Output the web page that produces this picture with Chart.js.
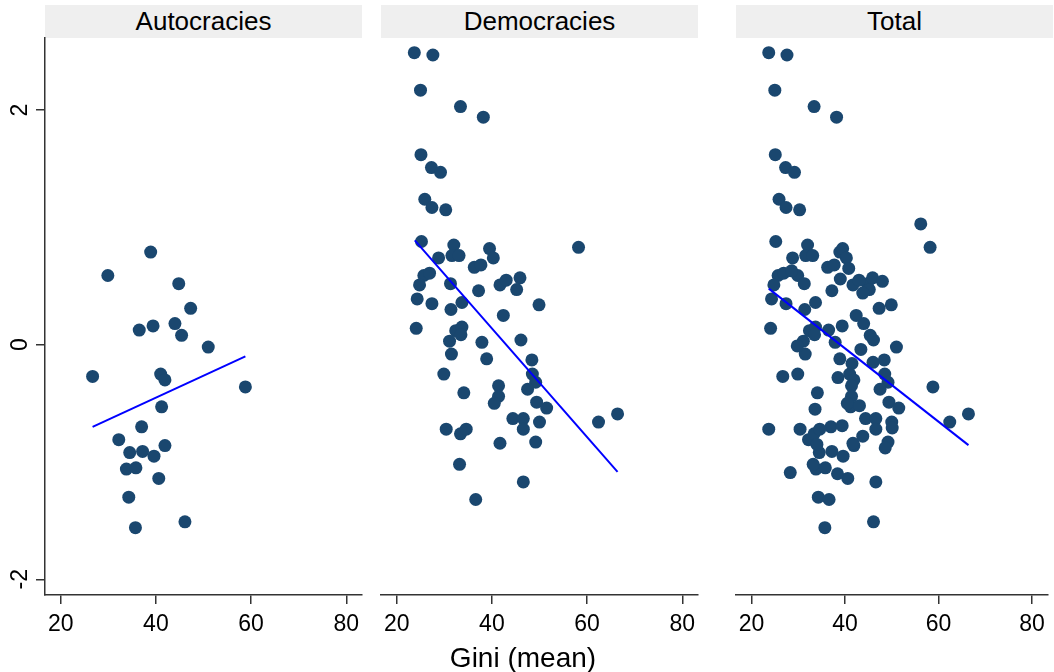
<!DOCTYPE html>
<html>
<head>
<meta charset="utf-8">
<script src="https://cdn.jsdelivr.net/npm/chart.js@4.4.1/dist/chart.umd.min.js"></script>
<style>
  html, body { margin: 0; padding: 0; background: #fff; }
  body { width: 1054px; height: 672px; position: relative; overflow: hidden;
         font-family: "Liberation Sans", Arial, sans-serif; }
  canvas { position: absolute; top: 0; }
  .strip { position: absolute; top: 5px; height: 33px; line-height: 33px; background: #efefef;
           color: #000; font-size: 26px; text-align: center; }
  #xtitle { position: absolute; left: 373px; width: 300px; top: 643px; line-height: 30px;
            text-align: center; font-size: 28px; color: #000; }
</style>
</head>
<body>
<div class="strip" style="left:45px;width:317px">Autocracies</div>
<div class="strip" style="left:381px;width:317px">Democracies</div>
<div class="strip" style="left:736px;width:317px">Total</div>
<canvas id="p1" width="370" height="672" style="left:0px"></canvas>
<canvas id="p2" width="334" height="672" style="left:372px"></canvas>
<canvas id="p3" width="327" height="672" style="left:727px"></canvas>
<div id="xtitle">Gini (mean)</div>

<script>
(function(){
  // axis ticks
  const xTicks = [20, 40, 60, 80];
  const yTicks = [-2, 0, 2];

  // Autocracies: Gini (mean) / outcome
  const autX = [38.9, 29.9, 44.8, 47.3, 36.5, 39.4, 44.0, 45.4, 51.0, 26.7, 41.0, 41.9, 58.8,
                41.2, 37.0, 32.2, 34.5, 37.2, 39.6, 41.9, 33.8, 35.8, 40.6, 34.3, 46.1, 35.7];
  const autY = [0.79, 0.59, 0.52, 0.31, 0.125, 0.16, 0.18, 0.08, -0.02, -0.27, -0.25, -0.30, -0.36,
                -0.53, -0.70, -0.81, -0.92, -0.91, -0.95, -0.86, -1.06, -1.05, -1.14, -1.30, -1.51, -1.56];

  // Democracies
  const demX = [23.7, 27.6, 25.0, 33.4, 38.2, 25.1, 27.3, 29.2, 25.9, 27.4, 30.3,
                25.2, 58.2, 32.0, 28.8, 31.6, 33.1, 39.5, 40.3, 36.3, 37.7,
                25.7, 26.9, 24.8, 31.3, 41.7, 43.0, 45.9, 45.2, 37.2, 24.3,
                27.4, 33.7, 31.4, 49.9, 42.4, 24.1, 32.4, 33.7, 33.5, 31.1,
                37.9, 46.1, 31.5, 38.9, 48.4, 29.9, 48.5, 49.2, 47.5, 41.4,
                41.4, 40.5, 34.1, 49.4, 51.5, 44.4, 46.6, 46.6, 50.0, 62.4,
                66.4, 30.4, 33.4, 34.6, 41.7, 49.2, 33.2, 46.6, 36.6];
  const demY = [2.49, 2.47, 2.17, 2.03, 1.94, 1.62, 1.51, 1.47, 1.24, 1.17, 1.15,
                0.88, 0.83, 0.85, 0.74, 0.76, 0.76, 0.82, 0.74, 0.66, 0.68,
                0.59, 0.61, 0.51, 0.52, 0.51, 0.55, 0.57, 0.47, 0.46, 0.39,
                0.35, 0.36, 0.30, 0.34, 0.25, 0.14, 0.12, 0.15, 0.085, 0.03,
                0.02, 0.04, -0.08, -0.12, -0.13, -0.25, -0.25, -0.32, -0.38, -0.35,
                -0.44, -0.50, -0.41, -0.49, -0.54, -0.63, -0.63, -0.72, -0.66, -0.66,
                -0.59, -0.72, -0.76, -0.72, -0.84, -0.83, -1.02, -1.17, -1.32];

  // countries only in Total (no regime classification)
  const othX = [56.2, 23.7, 29.8, 41.5, 43.4, 46.0, 38.5, 33.6, 43.1, 50.1, 39.4,
                34.0, 43.8, 38.4, 28.3, 40.8, 28.6, 39.0, 48.0, 43.8, 48.6];
  const othY = [1.03, -0.72, -0.01, -0.16, -0.04, -0.15, -0.28, -0.55, -0.52, -0.71, -0.69,
                -0.85, -0.78, -1.10, -1.09, 0.65, 0.63, 0.56, 0.54, 0.44, -0.88];

  // fitted lines (end points)
  const autFitX = [26.7, 58.8], autFitY = [-0.70, -0.10];
  const demFitX = [23.8, 66.4], demFitY = [0.89, -1.085];
  const totFitX = [23.7, 66.4], totFitY = [0.478, -0.856];

  const totX = [...autX, ...demX, ...othX];
  const totY = [...autY, ...demY, ...othY];

  const NAVY = '#1a476f';
  const AXIS = '#333';
  const FONT = '"Liberation Sans", Arial, sans-serif';
  const X_MIN = 16.7, X_MAX = 83.3;
  const Y_MIN = -2.134, Y_MAX = 2.615;

  const pts = (xs, ys) => xs.map((x, i) => ({ x, y: ys[i] }));

  // rotated y labels (Stata style)
  const yLabelPlugin = {
    id: 'yLabelPlugin',
    afterDraw(chart, args, opts) {
      if (!opts || !opts.show) return;
      const { ctx } = chart;
      const sc = chart.scales.y;
      ctx.save();
      ctx.font = '23px ' + FONT;
      ctx.fillStyle = '#000';
      ctx.textAlign = 'center';
      ctx.textBaseline = 'alphabetic';
      yTicks.forEach(v => {
        const y = sc.getPixelForValue(v);
        ctx.save();
        ctx.translate(27, y);
        ctx.rotate(-Math.PI / 2);
        ctx.fillText(String(v), 0, 0);
        ctx.restore();
      });
      ctx.restore();
    }
  };

  function build(id, cfg) {
    const ctx = document.getElementById(id).getContext('2d');
    return new Chart(ctx, {
      type: 'scatter',
      data: {
        datasets: [
          {
            type: 'line',
            data: pts(cfg.fx, cfg.fy),
            borderColor: '#0000ff',
            borderWidth: 2,
            pointRadius: 0,
            fill: false,
            order: 0
          },
          {
            type: 'scatter',
            data: pts(cfg.xs, cfg.ys),
            pointRadius: 6.5,
            pointHoverRadius: 6.5,
            pointBackgroundColor: NAVY,
            pointBorderWidth: 0,
            order: 1
          }
        ]
      },
      options: {
        responsive: false,
        devicePixelRatio: 1,
        animation: false,
        events: [],
        layout: { padding: { top: 38, right: cfg.padR, bottom: 0, left: cfg.padL } },
        plugins: {
          legend: { display: false },
          tooltip: { enabled: false },
          yLabelPlugin: { show: cfg.showY }
        },
        scales: {
          x: {
            type: 'linear',
            min: X_MIN, max: X_MAX,
            afterBuildTicks: s => { s.ticks = xTicks.map(v => ({ value: v })); },
            afterFit: s => { s.height = 77; },
            grid: { drawOnChartArea: false, drawTicks: true, tickLength: 9, color: AXIS, lineWidth: 1.5 },
            border: { display: true, color: AXIS, width: 1.5 },
            ticks: { color: '#000', font: { family: FONT, size: 23 }, padding: 7, maxRotation: 0 }
          },
          y: {
            type: 'linear',
            display: cfg.showY,
            min: Y_MIN, max: Y_MAX,
            afterBuildTicks: s => { s.ticks = yTicks.map(v => ({ value: v })); },
            afterFit: s => { s.width = cfg.showY ? 45 : 0; },
            grid: { drawOnChartArea: false, drawTicks: true, tickLength: 9, color: AXIS, lineWidth: 1.5 },
            border: { display: true, color: AXIS, width: 1.5 },
            ticks: { color: 'rgba(0,0,0,0)', font: { family: FONT, size: 23 } }
          }
        }
      },
      plugins: [yLabelPlugin]
    });
  }

  build('p1', { xs: autX, ys: autY, fx: autFitX, fy: autFitY, padL: 0, padR: 8, showY: true });
  build('p2', { xs: demX, ys: demY, fx: demFitX, fy: demFitY, padL: 9, padR: 8, showY: false });
  build('p3', { xs: totX, ys: totY, fx: totFitX, fy: totFitY, padL: 9, padR: 1, showY: false });
})();
</script>
</body>
</html>
